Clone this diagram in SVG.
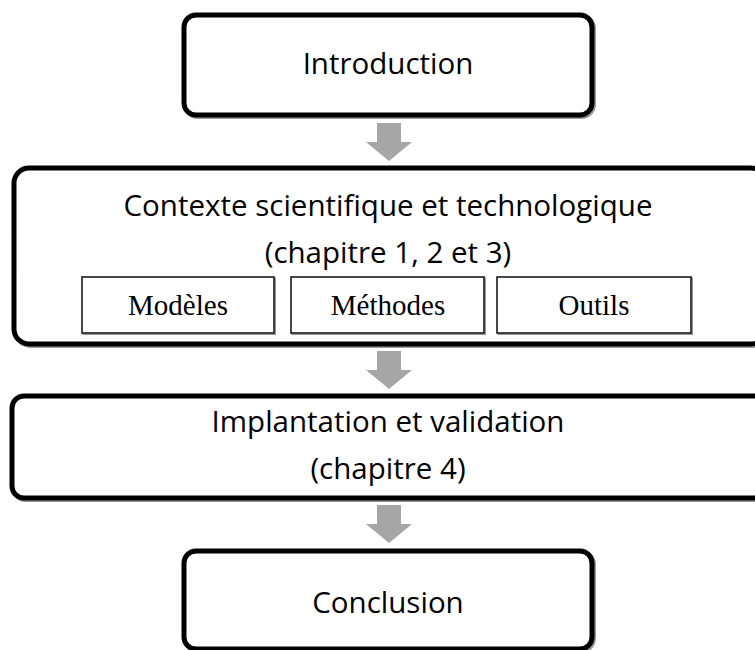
<svg xmlns="http://www.w3.org/2000/svg" width="755" height="650" viewBox="0 0 755 650">
  <style>
    .box { fill: #ffffff; stroke: #000000; stroke-width: 5; }
    .shade { fill: none; stroke: #9a9a9a; stroke-width: 5; }
    .sub { fill: #ffffff; stroke: #1a1a1a; stroke-width: 1.6; }
    .subshade { fill: none; stroke: #8c8c8c; stroke-width: 1.4; }
    .main { font-family: "Open Sans", "Liberation Sans", sans-serif; font-size: 29.5px; fill: #000000; text-anchor: middle; }
    .serif { font-family: "Liberation Serif", "DejaVu Serif", serif; font-size: 29px; fill: #000000; text-anchor: middle; }
    .arrow { fill: #a6a6a6; }
  </style>
  <defs>
    <!-- block arrow pointing down, tip at origin -->
    <path id="down" d="M -12 -38 L 12 -38 L 12 -19 L 23 -19 L 0 0 L -23 -19 L -12 -19 Z"/>
  </defs>

  <!-- connectors -->
  <g id="connectors" class="arrow">
    <use href="#down" x="389" y="161"/>
    <use href="#down" x="389" y="389"/>
    <use href="#down" x="389" y="543"/>
  </g>

  <g id="introduction">
    <rect class="shade" x="185.5" y="16.5" width="408" height="100" rx="12"/>
    <rect class="box" x="184" y="15" width="408" height="100" rx="12"/>
    <text class="main" x="388" y="74">Introduction</text>
  </g>

  <g id="contexte">
    <rect class="shade" x="15.5" y="169.5" width="752" height="176" rx="15"/>
    <rect class="box" x="14" y="168" width="752" height="176" rx="15"/>
    <text class="main" x="388" y="216">Contexte scientifique et technologique</text>
    <text class="main" x="388" y="263">(chapitre 1, 2 et 3)</text>
  </g>

  <g id="modeles">
    <rect class="subshade" x="83.2" y="278.2" width="192" height="56"/>
    <rect class="sub" x="82" y="277" width="192" height="56"/>
    <text class="serif" x="178" y="315">Modèles</text>
  </g>
  <g id="methodes">
    <rect class="subshade" x="292.2" y="278.2" width="193" height="56"/>
    <rect class="sub" x="291" y="277" width="193" height="56"/>
    <text class="serif" x="388" y="315">Méthodes</text>
  </g>
  <g id="outils">
    <rect class="subshade" x="498.2" y="278.2" width="194" height="56"/>
    <rect class="sub" x="497" y="277" width="194" height="56"/>
    <text class="serif" x="594" y="315">Outils</text>
  </g>

  <g id="implantation">
    <rect class="shade" x="13.5" y="397.5" width="790" height="102" rx="12"/>
    <rect class="box" x="12" y="396" width="790" height="102" rx="12"/>
    <text class="main" x="388" y="432">Implantation et validation</text>
    <text class="main" x="388" y="479">(chapitre 4)</text>
  </g>

  <g id="conclusion">
    <rect class="shade" x="185.5" y="552.5" width="408" height="98" rx="12"/>
    <rect class="box" x="184" y="551" width="408" height="98" rx="12"/>
    <text class="main" x="388" y="613">Conclusion</text>
  </g>
</svg>
